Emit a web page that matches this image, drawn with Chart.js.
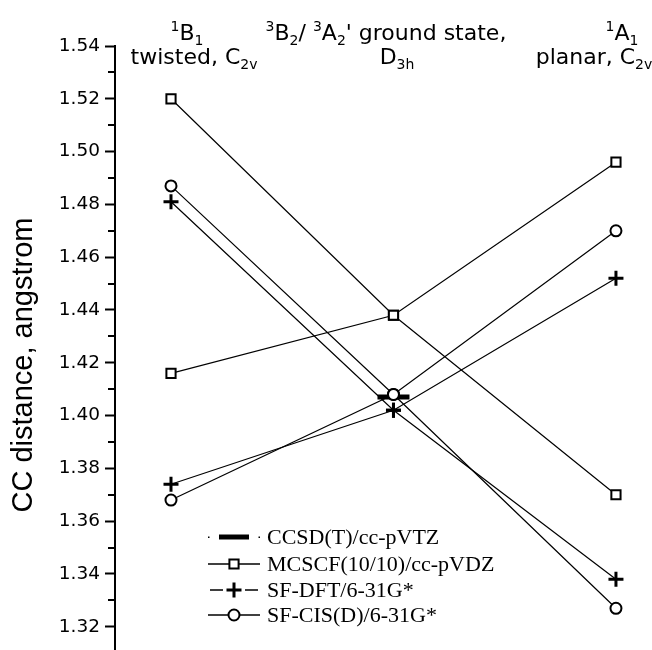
<!DOCTYPE html>
<html>
<head>
<meta charset="utf-8">
<script src="https://cdn.jsdelivr.net/npm/chart.js@4"></script>
<style>
  body { margin: 0; background: #fff; }
  #wrap { width: 652px; height: 650px; position: relative; }
</style>
</head>
<body>
<div id="wrap"><canvas id="ccChart"></canvas></div>
<script>
// --- data ---
const categories = ['1B1 twisted, C2v', '3B2/3A2\' ground state, D3h', '1A1 planar, C2v'];
const ccsdT  = [null, 1.407, null];
const mcscfA = [1.520, 1.438, 1.370];
const mcscfB = [1.416, 1.438, 1.496];
const sfDftA = [1.481, 1.402, 1.338];
const sfDftB = [1.374, 1.402, 1.452];
const sfCisA = [1.487, 1.408, 1.327];
const sfCisB = [1.368, 1.408, 1.470];
const yTicks = [1.32, 1.34, 1.36, 1.38, 1.40, 1.42, 1.44, 1.46, 1.48, 1.50, 1.52, 1.54];
const yMinor = [1.33, 1.35, 1.37, 1.39, 1.41, 1.43, 1.45, 1.47, 1.49, 1.51, 1.53];
const legendLabels = ['CCSD(T)/cc-pVTZ', 'MCSCF(10/10)/cc-pVDZ', 'SF-DFT/6-31G*', 'SF-CIS(D)/6-31G*'];
const yTitle = 'CC distance, angstrom';

const pts = arr => categories.map((c, i) => ({ x: i, y: arr[i] })).filter(p => p.y !== null);

const square = { pointStyle: 'rect', pointRadius: 6.5, pointBorderWidth: 2 };
const plus   = { pointStyle: 'cross', pointRadius: 7.5, pointBorderWidth: 3 };
const circle = { pointStyle: 'circle', pointRadius: 5.5, pointBorderWidth: 2 };
const ccsd   = { pointStyle: 'line', pointRadius: 16, pointBorderWidth: 5 };

function series(data, marker) {
    return Object.assign({
        data: pts(data),
        borderColor: '#000',
        borderWidth: 1.2,
        pointBackgroundColor: '#fff',
        pointBorderColor: '#000',
        showLine: true,
        tension: 0
    }, marker);
}

// headers above the three columns (text segments with sub/superscripts)
const headers = [
    { cx: 187, y: 40, segs: [['1', 'sup'], ['B'], ['1', 'sub']] },
    { cx: 194, y: 64, segs: [['twisted, C'], ['2v', 'sub']] },
    { cx: 386, y: 40, segs: [['3', 'sup'], ['B'], ['2', 'sub'], ['/ '], ['3', 'sup'], ['A'], ['2', 'sub'], ["' ground state,"]] },
    { cx: 397, y: 64, segs: [['D'], ['3h', 'sub']] },
    { cx: 622, y: 40, segs: [['1', 'sup'], ['A'], ['1', 'sub']] },
    { cx: 594, y: 64, segs: [['planar, C'], ['2v', 'sub']] }
];

function drawRich(ctx, segs, cx, y, size) {
    const small = Math.round(size * 0.62);
    const fontOf = s => (s ? small : size) + 'px "DejaVu Sans"';
    let total = 0;
    segs.forEach(([t, s]) => { ctx.font = fontOf(s); total += ctx.measureText(t).width; });
    let x = cx - total / 2;
    ctx.textAlign = 'left';
    ctx.textBaseline = 'alphabetic';
    segs.forEach(([t, s]) => {
        ctx.font = fontOf(s);
        const dy = s === 'sup' ? -size * 0.42 : s === 'sub' ? size * 0.22 : 0;
        ctx.fillText(t, x, y + dy);
        x += ctx.measureText(t).width;
    });
}

const decorations = {
    id: 'decorations',
    afterDraw(chart) {
        const ctx = chart.ctx;
        const yScale = chart.scales.y;
        ctx.save();
        ctx.fillStyle = '#000';
        ctx.strokeStyle = '#000';

        // minor ticks
        ctx.lineWidth = 2;
        yMinor.forEach(v => {
            const py = Math.round(yScale.getPixelForValue(v));
            ctx.beginPath();
            ctx.moveTo(yScale.right - 7, py);
            ctx.lineTo(yScale.right, py);
            ctx.stroke();
        });

        // y title
        ctx.save();
        ctx.translate(24, 365);
        ctx.rotate(-Math.PI / 2);
        ctx.font = '29px "Liberation Sans"';
        ctx.textAlign = 'center';
        ctx.textBaseline = 'middle';
        ctx.fillText(yTitle, 0, 0);
        ctx.restore();

        // column headers
        headers.forEach(h => drawRich(ctx, h.segs, h.cx, h.y, 22));

        // legend
        const markers = [ccsd, square, plus, circle];
        const rows = [537, 564, 590, 615];
        const x0 = 208, x1 = 260, xm = 234;
        markers.forEach((m, i) => {
            const y = rows[i];
            ctx.lineWidth = 1.3;
            if (i === 0) {
                ctx.fillRect(x0, y - 0.5, 1.5, 1.5);
                ctx.fillRect(x1 - 1.5, y - 0.5, 1.5, 1.5);
            } else if (i === 2) {
                ctx.beginPath();
                ctx.moveTo(x0 + 2, y); ctx.lineTo(xm - 11, y);
                ctx.moveTo(xm + 11, y); ctx.lineTo(x1 - 2, y);
                ctx.stroke();
            } else {
                ctx.beginPath();
                ctx.moveTo(x0, y); ctx.lineTo(x1, y);
                ctx.stroke();
            }
            ctx.fillStyle = '#fff';
            ctx.lineWidth = m.pointBorderWidth;
            Chart.helpers.drawPoint(ctx, {
                pointStyle: m.pointStyle,
                radius: i === 0 ? 15 : m.pointRadius,
                borderWidth: m.pointBorderWidth,
                rotation: 0
            }, xm, y);
            ctx.fillStyle = '#000';
            ctx.font = '22px "Liberation Serif"';
            ctx.textAlign = 'left';
            ctx.textBaseline = 'middle';
            ctx.fillText(legendLabels[i], 267, y + 1);
        });
        ctx.restore();
    }
};

new Chart(document.getElementById('ccChart'), {
    type: 'scatter',
    data: {
        datasets: [
            series(sfCisA, circle), series(sfCisB, circle),
            series(sfDftA, plus), series(sfDftB, plus),
            series(mcscfA, square), series(mcscfB, square),
            Object.assign(series(ccsdT, ccsd), { showLine: false })
        ]
    },
    options: {
        responsive: true,
        maintainAspectRatio: false,
        animation: false,
        layout: { autoPadding: false, padding: { top: 46, right: 0, bottom: 0, left: 0 } },
        plugins: { legend: { display: false }, tooltip: { enabled: false } },
        scales: {
            x: { type: 'linear', display: false, min: -0.2517, max: 2.162 },
            y: {
                min: 1.3112,
                max: 1.54,
                afterBuildTicks: s => { s.ticks = yTicks.map(v => ({ value: v })); },
                afterFit: s => { s.width = 115; s.paddingTop = 0; s.paddingBottom = 0; },
                ticks: {
                    color: '#000',
                    padding: 5,
                    font: { family: 'DejaVu Sans', size: 18.5 },
                    callback: v => Number(v).toFixed(2)
                },
                grid: { drawOnChartArea: false, tickLength: 10, tickColor: '#000', tickWidth: 2 },
                border: { display: true, color: '#000', width: 2 }
            }
        }
    },
    plugins: [decorations]
});
</script>
</body>
</html>
